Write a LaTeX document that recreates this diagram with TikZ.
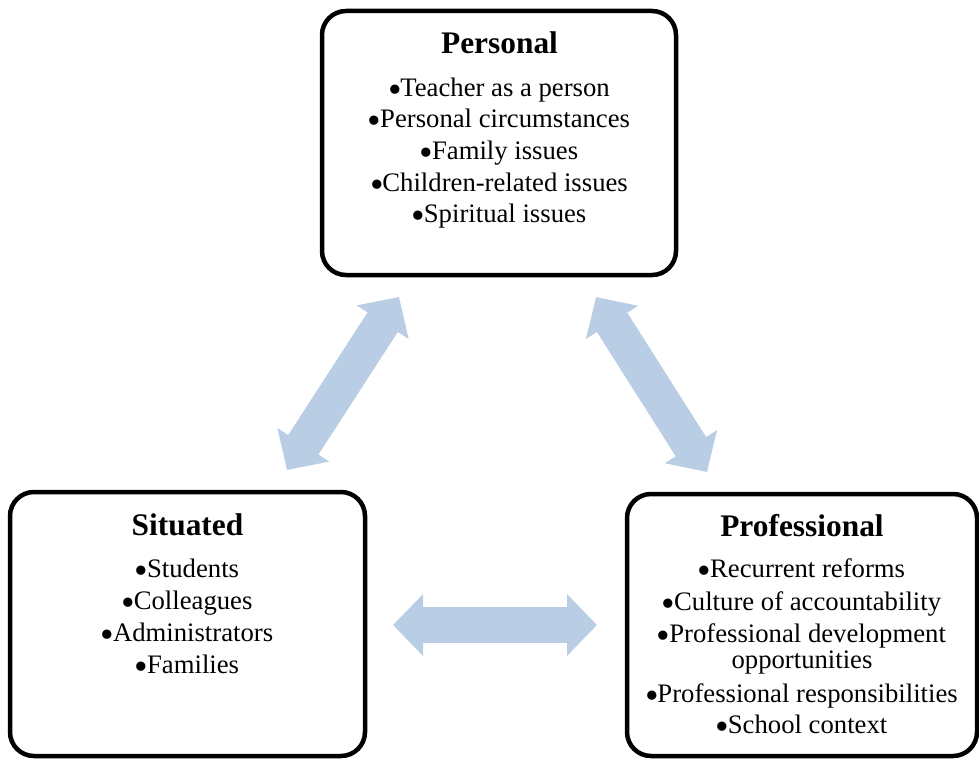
\documentclass[tikz,border=0pt]{standalone}
\usepackage{graphicx}
\usepackage{fontspec}
\setmainfont{Liberation Serif}
\usetikzlibrary{arrows.meta}
\definecolor{arrowblue}{HTML}{B9CDE5}
\newcommand{\bul}{\makebox[0.42em]{\smash{\raisebox{-0.24em}{\scalebox{1.45}{•}}}}}
\begin{document}
\begin{tikzpicture}[x=1pt,y=-1pt,
  panel/.style={draw=black, line width=4.5pt, rounded corners=24pt, rectangle, inner sep=0pt},
  ttl/.style={font=\fontsize{31.4}{36}\selectfont\bfseries, anchor=base, inner sep=0pt},
  itm/.style={font=\fontsize{26.7}{31}\selectfont, anchor=base, inner sep=0pt},
  link/.style={draw=arrowblue, line width=36pt, {Triangle[width=60pt,length=30pt]}-{Triangle[width=60pt,length=30pt]}}]
\useasboundingbox (0,0) rectangle (979,760);

% boxes
\node[panel, minimum width=354pt, minimum height=264pt] (pbox) at (499,143) {};
\node[panel, minimum width=355pt, minimum height=264pt] (sbox) at (187.5,624) {};
\node[panel, minimum width=350pt, minimum height=262pt] (fbox) at (802,625) {};

% Personal
\node[ttl] (pt) at (499.5,54) {Personal};
\node[itm] (p1) at (499.5,96) {\bul Teacher as a person};
\node[itm] (p2) at (499.5,127.5) {\bul Personal circumstances};
\node[itm] (p3) at (499.5,159) {\bul Family issues};
\node[itm] (p4) at (499.5,191) {\bul Children-related issues};
\node[itm] (p5) at (499.5,222) {\bul Spiritual issues};

% Situated
\node[ttl] (st) at (187.5,535) {Situated};
\node[itm] (s1) at (187.5,577) {\bul Students};
\node[itm] (s2) at (187.5,609) {\bul Colleagues};
\node[itm] (s3) at (187.5,641) {\bul Administrators};
\node[itm] (s4) at (187.5,673) {\bul Families};

% Professional
\node[ttl] (ft) at (802,536) {Professional};
\node[itm] (f1) at (802,577) {\bul Recurrent reforms};
\node[itm] (f2) at (802,610) {\bul Culture of accountability};
\node[itm] (f3) at (802,642) {\bul Professional development};
\node[itm] (f4) at (802,668) {opportunities};
\node[itm] (f5) at (802,702) {\bul Professional responsibilities};
\node[itm] (f6) at (802,733) {\bul School context};

% arrow end points
\coordinate (aL1) at (287,470);
\coordinate (aL2) at (399,297);
\coordinate (aR1) at (596,297);
\coordinate (aR2) at (707,472);
\coordinate (aH1) at (393,625);
\coordinate (aH2) at (597,625);

\draw[link] (aL1) -- (aL2);
\draw[link] (aR1) -- (aR2);
\draw[link] (aH1) -- (aH2);
\end{tikzpicture}
\end{document}
